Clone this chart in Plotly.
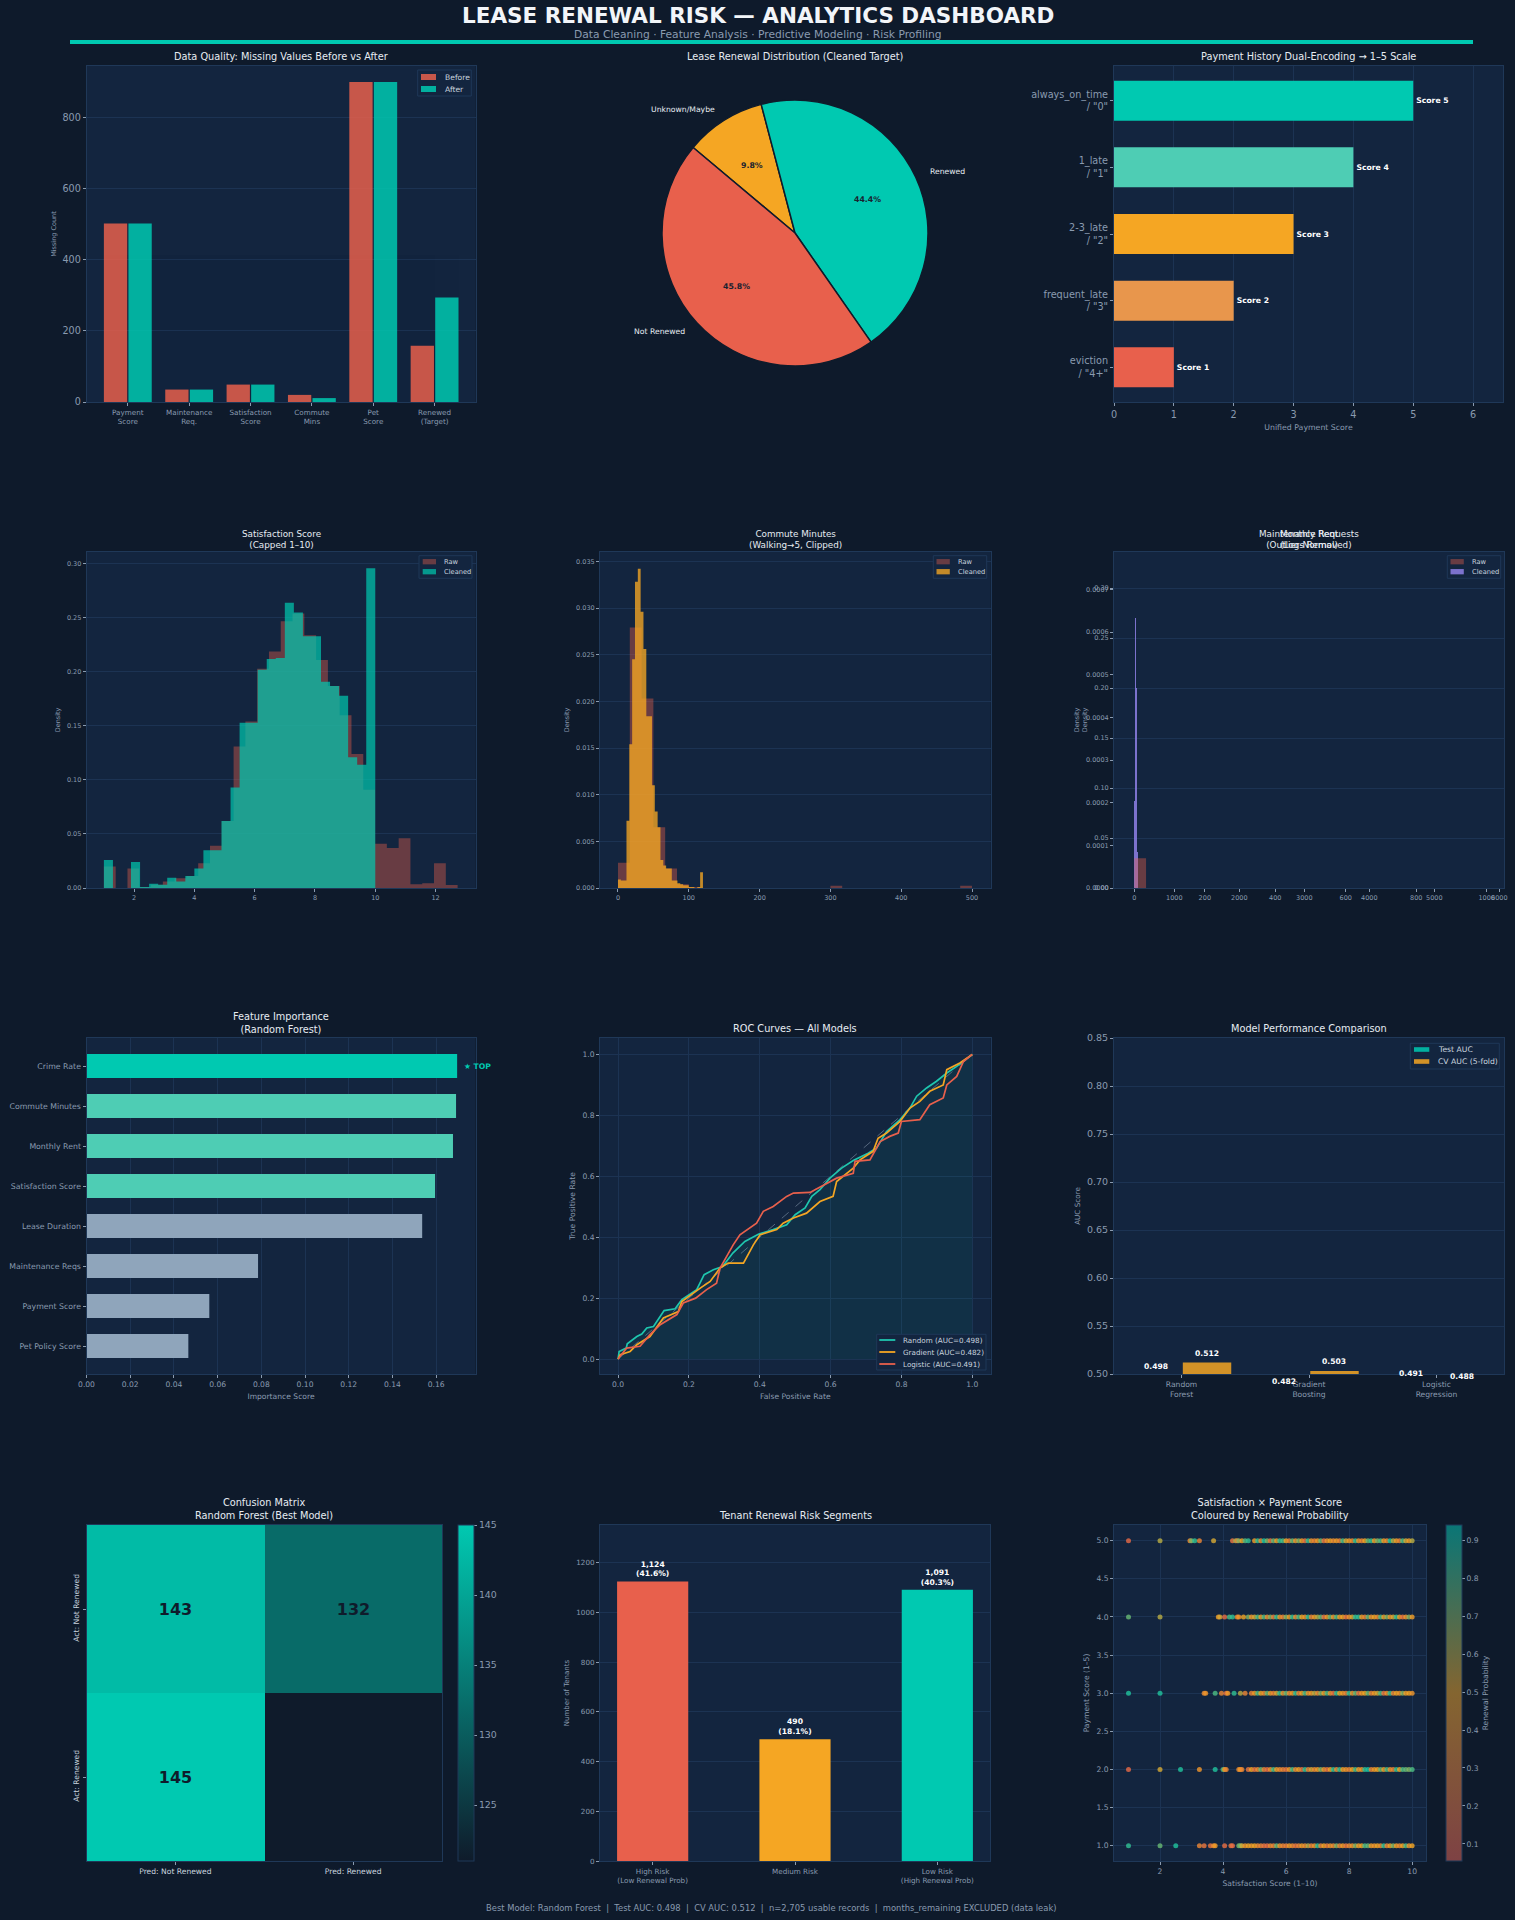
import math
import plotly.graph_objects as go

W, H = 1515, 1920
FONT = "DejaVu Sans"
BG = "#0e1a2b"
PLOT_BG = "#13253f"
SPINE = "#1f3858"
GRID = "#1c3353"
TICK = "#8a9bb0"
TXT = "#e6ecf2"
LEG = "#c9d4df"
TEAL = "#00c9b1"; LTEAL = "#4ecdb4"; ORANGE = "#f5a623"; LORANGE = "#e8964c"
CORAL = "#e8604c"; SLATE = "#8fa5bb"; PURPLE = "#8f80e6"; DARK = "#0f1b2b"

# ---------------- data ----------------
# Panel 1: missing values
dq_fields = ["Payment<br>Score", "Maintenance<br>Req.", "Satisfaction<br>Score", "Commute<br>Mins", "Pet<br>Score", "Renewed<br>(Target)"]
dq_before = [502, 35, 49, 20, 900, 158]
dq_after = [502, 35, 49, 11, 900, 294]

# Panel 2: renewal distribution (%)
renew_labels = ["Unknown/Maybe", "Renewed", "Not Renewed"]
renew_pct = [9.8, 44.4, 45.8]
renew_colors = [ORANGE, TEAL, CORAL]

# Panel 3: payment history encoding
pay_labels = ['always_on_time<br>/ "0"', '1_late<br>/ "1"', '2-3_late<br>/ "2"', 'frequent_late<br>/ "3"', 'eviction<br>/ "4+"']
pay_scores = [5, 4, 3, 2, 1]
pay_colors = [TEAL, LTEAL, ORANGE, LORANGE, CORAL]

# Panel 4: satisfaction histograms (density)
sat_raw_start, sat_raw_width = 1.0, 0.391
sat_raw_dens = [0.020, 0, 0.018, 0.001, 0.003, 0.006, 0.009, 0.011, 0.023, 0.039,
                0.062, 0.131, 0.154, 0.203, 0.219, 0.247, 0.254, 0.234, 0.211, 0.187,
                0.160, 0.124, 0.091, 0.041, 0.037, 0.046, 0.0034, 0.0043, 0.023, 0.0028]
sat_clean_start, sat_clean_width = 1.0, 0.3
sat_clean_dens = [0.026, 0, 0, 0.024, 0.001, 0.004, 0.003, 0.0095, 0.006, 0.011,
                  0.018, 0.035, 0.035, 0.062, 0.093, 0.153, 0.153, 0.202, 0.212, 0.213,
                  0.264, 0.255, 0.233, 0.233, 0.191, 0.187, 0.178, 0.121, 0.114, 0.296]

# Panel 5: commute histograms
com_raw_start, com_raw_width = 0.0, 16.667
com_raw_dens = [0.0027, 0.0279, 0.0203, 0.0065, 0.0021, 0.0004, 0.0001, 0, 0, 0,
                0, 0, 0, 0, 0, 0, 0, 0, 0.00025, 0,
                0, 0, 0, 0, 0, 0, 0, 0, 0, 0.00025]
com_clean_start, com_clean_width = 0.0, 4.0
com_clean_dens = [0.0009, 0.0008, 0.0008, 0.0072, 0.0154, 0.0245, 0.0328, 0.0342, 0.0296, 0.0256,
                  0.0184, 0.0184, 0.011, 0.0082, 0.0065, 0.003, 0.0024, 0.0021, 0.0021, 0.0008,
                  0.0008, 0.0005, 0.0004, 0.0003, 0.0003, 0.0001, 0.0001, 0, 0.0001, 0.0017]

# Panel 6: maintenance histograms
mnt_raw_start, mnt_raw_width = 0.0, 33.3
mnt_raw_dens = [0.0297, 0, 0, 0, 0, 0, 0, 0, 0, 0,
                0, 0, 0, 0, 0, 0, 0, 0, 0, 0,
                0, 0, 0, 0, 0, 0, 0, 0, 0, 0.00002]
mnt_clean_start, mnt_clean_width = 0.0, 1.0
mnt_clean_dens = [0, 0.087, 0.15, 0.27, 0.2, 0.12, 0.06, 0.036, 0.02, 0.008]

# Panel 7: feature importance
feat_names = ["Crime Rate", "Commute Minutes", "Monthly Rent", "Satisfaction Score",
              "Lease Duration", "Maintenance Reqs", "Payment Score", "Pet Policy Score"]
feat_imp = [0.1696, 0.1691, 0.1677, 0.1595, 0.1536, 0.0785, 0.0562, 0.0466]
feat_colors = [TEAL, LTEAL, LTEAL, LTEAL, SLATE, SLATE, SLATE, SLATE]

# Panel 8: ROC curves
rf_fpr = [0, 0.003, 0.023, 0.026, 0.053, 0.067, 0.081, 0.1, 0.13, 0.161, 0.18, 0.222, 0.243, 0.269, 0.295,
          0.307, 0.324, 0.358, 0.396, 0.438, 0.476, 0.5, 0.528, 0.547, 0.57, 0.598, 0.631, 0.664, 0.706,
          0.73, 0.758, 0.796, 0.824, 0.843, 0.871, 0.899, 0.928, 0.956, 1.0]
rf_tpr = [0, 0.025, 0.036, 0.05, 0.074, 0.082, 0.102, 0.107, 0.159, 0.165, 0.195, 0.228, 0.277, 0.293, 0.304,
          0.321, 0.348, 0.386, 0.41, 0.425, 0.441, 0.474, 0.496, 0.534, 0.556, 0.594, 0.627, 0.652, 0.676,
          0.693, 0.747, 0.786, 0.824, 0.863, 0.89, 0.912, 0.939, 0.961, 1.0]
gb_fpr = [0, 0.006, 0.034, 0.053, 0.09, 0.128, 0.17, 0.18, 0.232, 0.26, 0.288, 0.311, 0.354, 0.382, 0.401,
          0.448, 0.466, 0.495, 0.532, 0.57, 0.607, 0.617, 0.664, 0.683, 0.72, 0.734, 0.758, 0.796, 0.824,
          0.852, 0.88, 0.918, 0.928, 0.965, 1.0]
gb_tpr = [0, 0.014, 0.025, 0.047, 0.074, 0.135, 0.156, 0.189, 0.233, 0.255, 0.299, 0.315, 0.315, 0.375, 0.408,
          0.425, 0.446, 0.463, 0.479, 0.517, 0.534, 0.583, 0.627, 0.654, 0.682, 0.725, 0.742, 0.78, 0.824,
          0.846, 0.879, 0.9, 0.95, 0.972, 1.0]
lr_fpr = [0, 0.024, 0.062, 0.09, 0.119, 0.166, 0.184, 0.219, 0.25, 0.278, 0.288, 0.325, 0.344, 0.391, 0.41,
          0.438, 0.476, 0.495, 0.542, 0.58, 0.617, 0.664, 0.669, 0.711, 0.74, 0.767, 0.791, 0.8, 0.852,
          0.88, 0.918, 0.928, 0.956, 0.975, 1.0]
lr_tpr = [0, 0.036, 0.042, 0.08, 0.113, 0.146, 0.184, 0.2, 0.228, 0.249, 0.299, 0.375, 0.408, 0.446, 0.485,
          0.501, 0.534, 0.545, 0.547, 0.572, 0.594, 0.61, 0.649, 0.654, 0.714, 0.731, 0.742, 0.78, 0.786,
          0.835, 0.857, 0.9, 0.928, 0.977, 1.0]
roc_names = ["Random", "Gradient", "Logistic"]

# Panel 9: model performance
models = ["Random<br>Forest", "Gradient<br>Boosting", "Logistic<br>Regression"]
test_auc = [0.498, 0.482, 0.491]
cv_auc = [0.512, 0.503, 0.488]
auc_axis_range = [0.5, 0.85]

# Panel 10: confusion matrix
cm_pred = ["Pred: Not Renewed", "Pred: Renewed"]
cm_act = ["Act: Not Renewed", "Act: Renewed"]
cm_values = [[143, 132], [145, 121]]

# Panel 11: risk segments
seg_names = ["High Risk<br>(Low Renewal Prob)", "Medium Risk", "Low Risk<br>(High Renewal Prob)"]
seg_counts = [1124, 490, 1091]
seg_colors = [CORAL, ORANGE, TEAL]

# Panel 12: satisfaction x payment scatter
sat_band = [4.9, 5.0, 5.1, 5.2, 5.3, 5.4, 5.5, 5.6, 5.7, 5.8, 5.9, 6.0, 6.1, 6.2, 6.3, 6.4, 6.5, 6.6,
            6.7, 6.8, 6.9, 7.0, 7.1, 7.2, 7.3, 7.4, 7.5, 7.6, 7.7, 7.8, 7.9, 8.0, 8.1, 8.2, 8.3, 8.4,
            8.5, 8.6, 8.7, 8.8, 8.9, 9.0, 9.1, 9.2, 9.3, 9.4, 9.5, 9.6, 9.7, 9.8, 9.9, 10.0]
sc_rows = [5, 4, 3, 2, 1]
sc_band_start = [5.0, 4.9, 4.9, 4.9, 4.9]
sc_sparse_x = [
    [1.0, 2.0, 2.95, 3.0, 3.1, 3.25, 3.7, 4.3, 4.4, 4.45, 4.5, 4.6, 4.7, 4.8],
    [1.0, 2.0, 3.85, 3.9, 4.05, 4.2, 4.3, 4.45, 4.5, 4.65, 4.8],
    [1.0, 2.0, 3.4, 3.45, 3.75, 3.95, 4.1, 4.15, 4.35, 4.55, 4.7],
    [1.0, 2.0, 2.65, 3.25, 3.75, 4.0, 4.05, 4.1, 4.5, 4.55, 4.6, 4.8],
    [1.0, 2.0, 2.5, 3.25, 3.4, 3.6, 3.7, 3.75, 4.05, 4.25, 4.3, 4.5, 4.55, 4.6, 4.7, 4.8],
]
sc_sparse_p = [
    [0.12, 0.6, 0.35, 0.72, 0.85, 0.3, 0.55, 0.2, 0.65, 0.3, 0.7, 0.5, 0.78, 0.85],
    [0.75, 0.6, 0.45, 0.55, 0.15, 0.8, 0.85, 0.35, 0.4, 0.5, 0.7],
    [0.88, 0.88, 0.35, 0.4, 0.8, 0.3, 0.15, 0.45, 0.85, 0.6, 0.3],
    [0.12, 0.55, 0.88, 0.4, 0.88, 0.8, 0.45, 0.3, 0.35, 0.45, 0.3, 0.2],
    [0.85, 0.75, 0.88, 0.3, 0.2, 0.2, 0.35, 0.45, 0.15, 0.2, 0.15, 0.7, 0.75, 0.55, 0.4, 0.5],
]
sc_band_p = [
    [0.45, 0.85, 0.35, 0.9, 0.7, 0.2, 0.75, 0.45, 0.85, 0.8, 0.5, 0.3, 0.75, 0.4, 0.7, 0.45, 0.2,
     0.85, 0.4, 0.3, 0.45, 0.75, 0.2, 0.4, 0.5, 0.35, 0.45, 0.3, 0.8, 0.55, 0.45, 0.35, 0.85, 0.4,
     0.3, 0.5, 0.75, 0.85, 0.45, 0.7, 0.8, 0.45, 0.35, 0.9, 0.6, 0.45, 0.3, 0.8, 0.55, 0.45, 0.6],
    [0.4, 0.55, 0.8, 0.45, 0.8, 0.35, 0.7, 0.25, 0.85, 0.4, 0.3, 0.7, 0.45, 0.85, 0.35, 0.8, 0.5,
     0.4, 0.85, 0.3, 0.45, 0.6, 0.75, 0.2, 0.45, 0.75, 0.4, 0.8, 0.45, 0.5, 0.2, 0.4, 0.55, 0.85,
     0.85, 0.45, 0.3, 0.75, 0.4, 0.5, 0.35, 0.8, 0.45, 0.7, 0.4, 0.55, 0.85, 0.45, 0.2, 0.4, 0.7, 0.45],
    [0.3, 0.45, 0.8, 0.5, 0.35, 0.75, 0.45, 0.3, 0.55, 0.85, 0.4, 0.75, 0.35, 0.45, 0.85, 0.3, 0.5,
     0.8, 0.4, 0.45, 0.6, 0.35, 0.7, 0.45, 0.8, 0.4, 0.2, 0.85, 0.5, 0.45, 0.3, 0.85, 0.4, 0.75,
     0.2, 0.45, 0.5, 0.75, 0.3, 0.45, 0.55, 0.8, 0.2, 0.4, 0.85, 0.3, 0.5, 0.4, 0.7, 0.45, 0.5, 0.4],
    [0.5, 0.2, 0.35, 0.75, 0.3, 0.15, 0.4, 0.8, 0.45, 0.35, 0.3, 0.2, 0.45, 0.8, 0.35, 0.5, 0.2,
     0.85, 0.3, 0.55, 0.35, 0.45, 0.7, 0.4, 0.2, 0.5, 0.85, 0.35, 0.85, 0.45, 0.4, 0.3, 0.5, 0.8,
     0.45, 0.4, 0.85, 0.9, 0.3, 0.45, 0.5, 0.75, 0.45, 0.8, 0.4, 0.3, 0.85, 0.5, 0.8, 0.75, 0.7, 0.8],
    [0.45, 0.5, 0.35, 0.3, 0.2, 0.15, 0.35, 0.3, 0.75, 0.4, 0.3, 0.25, 0.45, 0.35, 0.2, 0.3, 0.45,
     0.35, 0.6, 0.3, 0.4, 0.85, 0.3, 0.5, 0.25, 0.4, 0.35, 0.7, 0.3, 0.45, 0.2, 0.35, 0.4, 0.7,
     0.45, 0.5, 0.8, 0.75, 0.45, 0.4, 0.5, 0.35, 0.85, 0.3, 0.5, 0.7, 0.45, 0.35, 0.5, 0.8, 0.4, 0.5],
]
prob_min, prob_max = 0.055, 0.94

# ---------------- helpers ----------------
def dx(l, r):
    return [l / W, r / W]


def dy(t, b):
    return [1 - b / H, 1 - t / H]


def axis(dom=None, tick_size=7.5, grid=False, atitle=None, title_size=7.5, **kw):
    a = dict(showline=True, mirror=True, linecolor=SPINE, linewidth=1,
             ticks="outside", ticklen=3, tickwidth=1, tickcolor=TICK,
             tickfont=dict(size=tick_size, color=TICK, family=FONT),
             showgrid=grid, gridcolor=GRID, gridwidth=1, zeroline=False, automargin=False)
    if dom is not None:
        a["domain"] = dom
    if atitle:
        a["title"] = dict(text=atitle, font=dict(size=title_size, color=TICK, family=FONT), standoff=5)
    a.update(kw)
    return a


def hist_fill(start, width, dens, rgba, name, xa, ya):
    edges = [start + width * i for i in range(len(dens) + 1)]
    ys = list(dens) + [dens[-1]]
    return go.Scatter(x=edges, y=ys, mode="lines", line=dict(width=0, shape="hv"),
                      fill="tozeroy", fillcolor=rgba, name=name, showlegend=False,
                      xaxis=xa, yaxis=ya, hoverinfo="skip")


def hist_bar(start, width, dens, color, opacity, name, xa, ya):
    centers = [start + width * (i + 0.5) for i in range(len(dens))]
    return go.Bar(x=centers, y=dens, width=[width] * len(dens), name=name, showlegend=False,
                  marker=dict(color=color, line=dict(width=0)), opacity=opacity,
                  xaxis=xa, yaxis=ya, hoverinfo="skip")


anns = []
shapes = []


def P(x, y):
    return x / W, 1 - y / H


def title(text, cx, cy, size=9.75):
    x, y = P(cx, cy)
    anns.append(dict(text=text, x=x, y=y, xref="paper", yref="paper",
                     xanchor="center", yanchor="middle", showarrow=False,
                     font=dict(size=size, color=TXT, family=FONT)))


def legend_box(box, items, font_size, first_y, pitch, patch_x, patch_w, patch_h, text_x):
    """Matplotlib-style legend drawn as layout shapes + annotations."""
    l, t, r, b = box
    x0, y1 = P(l, t)
    x1, y0 = P(r, b)
    shapes.append(dict(type="rect", xref="paper", yref="paper", x0=x0, x1=x1, y0=y0, y1=y1,
                       fillcolor=PLOT_BG, line=dict(color=SPINE, width=1), layer="above"))
    for i, (name, color, kind) in enumerate(items):
        cy = first_y + i * pitch
        if kind == "line":
            a0, c0 = P(patch_x, cy)
            a1, _ = P(patch_x + patch_w, cy)
            shapes.append(dict(type="line", xref="paper", yref="paper", x0=a0, x1=a1, y0=c0, y1=c0,
                               line=dict(color=color, width=1.8), layer="above"))
        else:
            a0, c1 = P(patch_x, cy - patch_h / 2)
            a1, c0 = P(patch_x + patch_w, cy + patch_h / 2)
            shapes.append(dict(type="rect", xref="paper", yref="paper", x0=a0, x1=a1, y0=c0, y1=c1,
                               fillcolor=color, line=dict(width=0), layer="above"))
        tx, ty = P(text_x, cy)
        anns.append(dict(text=name, x=tx, y=ty, xref="paper", yref="paper", xanchor="left",
                         yanchor="middle", showarrow=False,
                         font=dict(size=font_size, color=LEG, family=FONT)))


RAW_FILL = "rgba(232,96,76,0.4)"
TEAL_FILL = "rgba(0,201,177,0.7)"
ORANGE_FILL = "rgba(245,166,35,0.78)"
fig = go.Figure()

# ---- P1 missing values
fig.add_trace(go.Bar(x=dq_fields, y=dq_before, name="Before", offset=-0.39, width=0.38,
                     marker=dict(color=CORAL, line=dict(width=0)), opacity=0.85, showlegend=False,
                     xaxis="x", yaxis="y", hoverinfo="skip"))
fig.add_trace(go.Bar(x=dq_fields, y=dq_after, name="After", offset=0.01, width=0.38,
                     marker=dict(color=TEAL, line=dict(width=0)), opacity=0.85, showlegend=False,
                     xaxis="x", yaxis="y", hoverinfo="skip"))
legend_box((417.7, 70, 471.3, 96), [("Before", "rgba(232,96,76,0.85)", "patch"),
                                    ("After", "rgba(0,201,177,0.85)", "patch")],
           7.6, 77, 12, 421, 15, 6, 443)

# ---- P2 pie
PIE_CX, PIE_CY, PIE_R = 795, 233, 133
pie_start_deg = -50
fig.add_trace(go.Pie(labels=renew_labels, values=renew_pct, sort=False, direction="clockwise",
                     rotation=pie_start_deg, textinfo="none", hoverinfo="skip", showlegend=False,
                     marker=dict(colors=renew_colors, line=dict(color=DARK, width=1.5)),
                     domain=dict(x=dx(PIE_CX - PIE_R, PIE_CX + PIE_R), y=dy(PIE_CY - PIE_R, PIE_CY + PIE_R))))
tot = sum(renew_pct)
ang = pie_start_deg
for lab, v in zip(renew_labels, renew_pct):
    frac = v / tot
    mid = math.radians(ang + frac * 180)
    ang += frac * 360
    sx, cy_ = math.sin(mid), math.cos(mid)
    lx, ly = P(PIE_CX + 1.1 * PIE_R * sx, PIE_CY - 1.1 * PIE_R * cy_)
    anns.append(dict(text=lab, x=lx, y=ly, xref="paper", yref="paper",
                     xanchor="left" if sx > 0 else "right", yanchor="middle", showarrow=False,
                     font=dict(size=7.7, color=TXT, family=FONT)))
    qx, qy = P(PIE_CX + 0.6 * PIE_R * sx, PIE_CY - 0.6 * PIE_R * cy_)
    anns.append(dict(text=f"<b>{frac * 100:.1f}%</b>", x=qx, y=qy, xref="paper", yref="paper",
                     xanchor="center", yanchor="middle", showarrow=False,
                     font=dict(size=7.8, color="#1a2230", family=FONT)))

# ---- P3 payment encoding
fig.add_trace(go.Bar(y=pay_labels, x=pay_scores, orientation="h", width=0.6,
                     marker=dict(color=pay_colors, line=dict(width=0)),
                     text=[f"<b>Score {s}</b>" for s in pay_scores], textposition="outside",
                     constraintext="none", cliponaxis=False,
                     textfont=dict(size=7.7, color="white", family=FONT),
                     xaxis="x2", yaxis="y2", showlegend=False, hoverinfo="skip"))

# ---- P4 satisfaction
fig.add_trace(hist_fill(sat_raw_start, sat_raw_width, sat_raw_dens, RAW_FILL, "Raw", "x3", "y3"))
fig.add_trace(hist_fill(sat_clean_start, sat_clean_width, sat_clean_dens, TEAL_FILL, "Cleaned", "x3", "y3"))
legend_box((419, 555.7, 472, 578.3), [("Raw", RAW_FILL, "patch"), ("Cleaned", TEAL_FILL, "patch")],
           6.7, 561.7, 10, 422.7, 13.3, 5.3, 441.7)

# ---- P5 commute
fig.add_trace(hist_fill(com_raw_start, com_raw_width, com_raw_dens, RAW_FILL, "Raw", "x4", "y4"))
fig.add_trace(hist_fill(com_clean_start, com_clean_width, com_clean_dens, ORANGE_FILL, "Cleaned", "x4", "y4"))
legend_box((933.3, 555.7, 986.7, 578.3), [("Raw", RAW_FILL, "patch"), ("Cleaned", ORANGE_FILL, "patch")],
           6.7, 561.7, 10, 936.5, 13.3, 5.3, 955.7)

# ---- P6 maintenance (overlapping axes)
fig.add_trace(hist_fill(mnt_raw_start, mnt_raw_width, mnt_raw_dens, RAW_FILL, "Raw", "x5", "y5"))
fig.add_trace(hist_bar(mnt_clean_start, mnt_clean_width, mnt_clean_dens, PURPLE, 0.85, "Cleaned", "x5", "y5"))
fig.add_trace(go.Scatter(x=[], y=[], xaxis="x12", yaxis="y12", showlegend=False, hoverinfo="skip"))
legend_box((1447.3, 555.7, 1500.7, 578.3), [("Raw", RAW_FILL, "patch"),
                                            ("Cleaned", "rgba(143,128,230,0.85)", "patch")],
           6.7, 561.7, 10, 1450.5, 13.3, 5.3, 1469.7)

# ---- P7 feature importance
fig.add_trace(go.Bar(y=feat_names, x=feat_imp, orientation="h", width=0.6,
                     marker=dict(color=feat_colors, line=dict(width=0)),
                     xaxis="x6", yaxis="y6", showlegend=False, hoverinfo="skip"))
anns.append(dict(text="<b>★ TOP</b>", x=feat_imp[0] + 0.002, y=feat_names[0], xref="x6", yref="y6",
                 xanchor="left", yanchor="middle", showarrow=False,
                 font=dict(size=7.7, color=TEAL, family=FONT)))

# ---- P8 ROC
fig.add_trace(go.Scatter(x=[0, 1], y=[0, 1], mode="lines", line=dict(color="#5d6f86", width=0.9, dash="dash"),
                         xaxis="x7", yaxis="y7", showlegend=False, hoverinfo="skip"))
fig.add_trace(go.Scatter(x=rf_fpr, y=rf_tpr, mode="lines", line=dict(width=0), fill="tozeroy",
                         fillcolor="rgba(0,201,177,0.07)", xaxis="x7", yaxis="y7",
                         showlegend=False, hoverinfo="skip"))
roc_sets = [(rf_fpr, rf_tpr, test_auc[0], "#1fc6ae"), (gb_fpr, gb_tpr, test_auc[1], ORANGE),
            (lr_fpr, lr_tpr, test_auc[2], CORAL)]
roc_items = []
for name, (fx, ty, auc, col) in zip(roc_names, roc_sets):
    label = f"{name} (AUC={auc:.3f})"
    roc_items.append((label, col, "line"))
    fig.add_trace(go.Scatter(x=fx, y=ty, mode="lines", name=label, showlegend=False,
                             line=dict(color=col, width=1.7), xaxis="x7", yaxis="y7", hoverinfo="skip"))
legend_box((876.7, 1334.3, 986, 1370), roc_items, 7.2, 1340, 12, 879.3, 16, 0, 900.7)

# ---- P9 model comparison
model_pos = list(range(len(models)))
fig.add_trace(go.Bar(x=model_pos, y=test_auc, name="Test AUC", offset=-0.39, width=0.38,
                     marker=dict(color=TEAL, line=dict(width=0)), opacity=0.85, showlegend=False,
                     xaxis="x8", yaxis="y8", hoverinfo="skip"))
fig.add_trace(go.Bar(x=model_pos, y=cv_auc, name="CV AUC (5-fold)", offset=0.01, width=0.38,
                     marker=dict(color=ORANGE, line=dict(width=0)), opacity=0.85, showlegend=False,
                     xaxis="x8", yaxis="y8", hoverinfo="skip"))
legend_box((1410.3, 1043.3, 1499.3, 1069), [("Test AUC", "rgba(0,201,177,0.85)", "patch"),
                                            ("CV AUC (5-fold)", "rgba(245,166,35,0.85)", "patch")],
           7.7, 1049.5, 12, 1414, 15.3, 4.6, 1435.7)
P9_TOP, P9_BOT = 1038, 1374
y9dom = dy(P9_TOP, P9_BOT)
for shift, vals in ((-0.2, test_auc), (0.2, cv_auc)):
    for p, v in zip(model_pos, vals):
        frac = (v + 0.003 - auc_axis_range[0]) / (auc_axis_range[1] - auc_axis_range[0])
        anns.append(dict(text=f"<b>{v:.3f}</b>", x=p + shift, xref="x8",
                         y=y9dom[0] + frac * (y9dom[1] - y9dom[0]), yref="paper",
                         xanchor="center", yanchor="bottom", showarrow=False,
                         font=dict(size=7.6, color="white", family=FONT)))

# ---- P10 confusion matrix
flat = [v for row in cm_values for v in row]
fig.add_trace(go.Heatmap(z=cm_values, x=cm_pred, y=cm_act, zmin=min(flat), zmax=max(flat),
                         colorscale=[[0, DARK], [1, TEAL]], texttemplate="%{z}",
                         textfont=dict(size=16, color=DARK, family=FONT, weight="bold"),
                         xaxis="x9", yaxis="y9", hoverinfo="skip",
                         colorbar=dict(x=458 / W, xanchor="left", xpad=0, ypad=0, y=1 - 1693 / H,
                                       yanchor="middle", len=336, lenmode="pixels", thickness=16,
                                       thicknessmode="pixels", outlinecolor=SPINE, outlinewidth=1,
                                       tickmode="linear", tick0=125, dtick=5, ticks="outside",
                                       ticklen=3, tickcolor=TICK,
                                       tickfont=dict(size=9.4, color=TICK, family=FONT))))

# ---- P11 risk segments
seg_total = sum(seg_counts)
fig.add_trace(go.Bar(x=seg_names, y=seg_counts, width=0.5,
                     marker=dict(color=seg_colors, line=dict(width=0)),
                     text=[f"<b>{c:,}<br>({c / seg_total * 100:.1f}%)</b>" for c in seg_counts],
                     textposition="outside", constraintext="none", cliponaxis=False,
                     textfont=dict(size=7.6, color="white", family=FONT),
                     xaxis="x10", yaxis="y10", showlegend=False, hoverinfo="skip"))

# ---- P12 scatter
sc_x, sc_y, sc_p = [], [], []
for row, start, spx, spp, bp in zip(sc_rows, sc_band_start, sc_sparse_x, sc_sparse_p, sc_band_p):
    bx = [v for v in sat_band if v >= start - 1e-9]
    n = min(len(bx), len(bp))
    xs = spx + bx[:n]
    ps = spp + bp[:n]
    sc_x += xs
    sc_y += [row] * len(xs)
    sc_p += ps
fig.add_trace(go.Scatter(x=sc_x, y=sc_y, mode="markers",
                         marker=dict(color=sc_p, cmin=prob_min, cmax=prob_max, size=5, opacity=0.8,
                                     colorscale=[[0, CORAL], [0.5, ORANGE], [1, TEAL]],
                                     line=dict(width=0), showscale=False),
                         xaxis="x11", yaxis="y11", showlegend=False, hoverinfo="skip"))
fig.add_trace(go.Scatter(x=sc_x[:1], y=sc_y[:1], mode="markers",
                         marker=dict(color=sc_p[:1], cmin=prob_min, cmax=prob_max, size=1, opacity=0,
                                     colorscale=[[0, "#7e4244"], [0.5, "#846530"], [1, "#0a7676"]],
                                     showscale=True,
                                     colorbar=dict(x=1446 / W, xanchor="left", xpad=0, ypad=0,
                                                   y=1 - 1693 / H, yanchor="middle", len=336,
                                                   lenmode="pixels", thickness=16, thicknessmode="pixels",
                                                   outlinecolor=SPINE, outlinewidth=1, tickmode="linear",
                                                   tick0=0, dtick=0.1, tickformat=".1f", ticks="outside",
                                                   ticklen=3, tickcolor=TICK,
                                                   tickfont=dict(size=7.6, color=TICK, family=FONT),
                                                   title=dict(text="Renewal Probability", side="right",
                                                              font=dict(size=7.6, color=TICK, family=FONT)))),
                         xaxis="x11", yaxis="y11", showlegend=False, hoverinfo="skip"))

# ---------------- titles / text ----------------
anns.append(dict(text="<b>LEASE RENEWAL RISK — ANALYTICS DASHBOARD</b>", x=0.5, y=1 - 15.7 / H,
                 xref="paper", yref="paper", xanchor="center", yanchor="middle", showarrow=False,
                 font=dict(size=21.5, color="#f2f5f9", family=FONT)))
anns.append(dict(text="Data Cleaning · Feature Analysis · Predictive Modeling · Risk Profiling",
                 x=0.5, y=1 - 35 / H, xref="paper", yref="paper", xanchor="center", yanchor="middle",
                 showarrow=False, font=dict(size=10.7, color=TICK, family=FONT)))
best = 0
anns.append(dict(text=(f"Best Model: Random Forest  |  Test AUC: {test_auc[best]:.3f}  |  "
                       f"CV AUC: {cv_auc[best]:.3f}  |  n={seg_total:,} usable records  |  "
                       f"months_remaining EXCLUDED (data leak)"),
                 x=771.5 / W, y=1 - 1908 / H, xref="paper", yref="paper", xanchor="center",
                 yanchor="middle", showarrow=False, font=dict(size=8.4, color=TICK, family=FONT)))

title("Data Quality: Missing Values Before vs After", 281.2, 56)
title("Lease Renewal Distribution (Cleaned Target)", 795, 56)
title("Payment History Dual-Encoding → 1–5 Scale", 1308.5, 56)
title("Satisfaction Score<br>(Capped 1–10)", 281.2, 539, 8.8)
title("Commute Minutes<br>(Walking→5, Clipped)", 795.3, 539, 8.8)
title("Maintenance Requests<br>(Outliers Removed)", 1309, 539, 8.8)
title("Monthly Rent<br>(Log-Normal)", 1309, 539, 8.8)
title("Feature Importance<br>(Random Forest)", 281, 1023)
title("ROC Curves — All Models", 795.3, 1028)
title("Model Performance Comparison", 1309, 1028)
title("Confusion Matrix<br>Random Forest (Best Model)", 264, 1509)
title("Tenant Renewal Risk Segments", 795, 1515)
title("Satisfaction × Payment Score<br>Coloured by Renewal Probability", 1270, 1509)

shapes.insert(0, dict(type="line", xref="paper", yref="paper", x0=70 / W, x1=1473 / W,
                      y0=1 - 42 / H, y1=1 - 42 / H, line=dict(color=TEAL, width=4)))

# ---------------- layout ----------------
layout = dict(
    width=W, height=H, autosize=False, margin=dict(l=0, r=0, t=0, b=0, pad=0, autoexpand=False),
    paper_bgcolor=BG, plot_bgcolor=PLOT_BG, barmode="overlay", showlegend=False,
    font=dict(family=FONT, color=TXT),
    annotations=anns,
    shapes=shapes,
    xaxis=axis(dx(86.7, 475.7), 7.2, anchor="y", type="category", range=[-0.67, 5.67]),
    yaxis=axis(dy(66, 402), 9.6, grid=True, atitle="Missing Count", title_size=6.5, anchor="x",
               range=[0, 945], dtick=200),
    xaxis2=axis(dx(1114, 1503), 9.7, grid=True, atitle="Unified Payment Score", title_size=7.8,
                anchor="y2", range=[0, 6.5], dtick=1),
    yaxis2=axis(dy(66, 402), 9.7, anchor="x2", type="category", range=[4.52, -0.52]),
    xaxis3=axis(dx(86.7, 475.7), 6.5, anchor="y3", range=[0.43, 13.33], dtick=2, tick0=0),
    yaxis3=axis(dy(552, 888), 6.5, grid=True, atitle="Density", title_size=6.5, anchor="x3",
                range=[0, 0.311], dtick=0.05, tickformat=".2f"),
    xaxis4=axis(dx(600, 990.7), 6.5, anchor="y4", range=[-25.4, 526.4], dtick=100, tick0=0),
    yaxis4=axis(dy(552, 888), 6.5, grid=True, atitle="Density", title_size=6.5, anchor="x4",
                range=[0, 0.036], dtick=0.005, tickformat=".3f"),
    xaxis5=axis(dx(1114, 1504), 6.5, anchor="y5", range=[-57.7, 1049], dtick=200, tick0=0),
    yaxis5=axis(dy(552, 888), 6.5, grid=True, atitle="Density", title_size=6.5, anchor="x5",
                range=[0, 0.336], dtick=0.05, tickformat=".2f"),
    xaxis12=axis(None, 6.5, overlaying="x5", anchor="y5", side="bottom", range=[72, 6072],
                 dtick=1000, tick0=0),
    yaxis12=axis(None, 6.5, atitle="Density", title_size=6.5, overlaying="y5", anchor="x5", side="left",
                 range=[0, 0.000788], dtick=0.0001, tick0=0, tickformat=".4f"),
    xaxis6=axis(dx(86.5, 475.5), 7.6, grid=True, atitle="Importance Score", title_size=7.6,
                anchor="y6", range=[0, 0.178], dtick=0.02, tickformat=".2f"),
    yaxis6=axis(dy(1038, 1374), 7.8, anchor="x6", type="category", range=[7.7, -0.7]),
    xaxis7=axis(dx(600, 990.7), 7.6, grid=True, atitle="False Positive Rate", title_size=7.6,
                anchor="y7", range=[-0.051, 1.052], dtick=0.2, tickformat=".1f"),
    yaxis7=axis(dy(1038, 1374), 7.6, grid=True, atitle="True Positive Rate", title_size=7.6,
                anchor="x7", range=[-0.049, 1.054], dtick=0.2, tickformat=".1f"),
    xaxis8=axis(dx(1114, 1504), 7.6, anchor="y8", range=[-0.53, 2.53], tickvals=model_pos,
                ticktext=models),
    yaxis8=axis(dy(P9_TOP, P9_BOT), 9.5, grid=True, atitle="AUC Score", title_size=7.2, anchor="x8",
                range=auc_axis_range, dtick=0.05, tickformat=".2f"),
    xaxis9=axis(dx(86.5, 442), 7.6, anchor="y9", type="category",
                tickfont=dict(size=7.6, color=LEG, family=FONT)),
    yaxis9=axis(dy(1525, 1861), 7.6, anchor="x9", type="category", autorange="reversed",
                tickangle=-90, tickfont=dict(size=7.6, color=LEG, family=FONT)),
    xaxis10=axis(dx(600, 990), 7.2, anchor="y10", type="category", range=[-0.37, 2.37]),
    yaxis10=axis(dy(1525, 1861), 7.2, grid=True, atitle="Number of Tenants", title_size=7,
                 anchor="x10", range=[0, 1351], dtick=200),
    xaxis11=axis(dx(1114, 1426), 7.6, grid=True, atitle="Satisfaction Score (1–10)", title_size=7.6,
                 anchor="y11", range=[0.54, 10.44], dtick=2, tick0=0),
    yaxis11=axis(dy(1525, 1861), 7.6, grid=True, atitle="Payment Score (1–5)", title_size=7.6,
                 anchor="x11", range=[0.8, 5.205], dtick=0.5, tick0=0, tickformat=".1f"),
)
fig.update_layout(**layout)
fig.write_html("out.html")
